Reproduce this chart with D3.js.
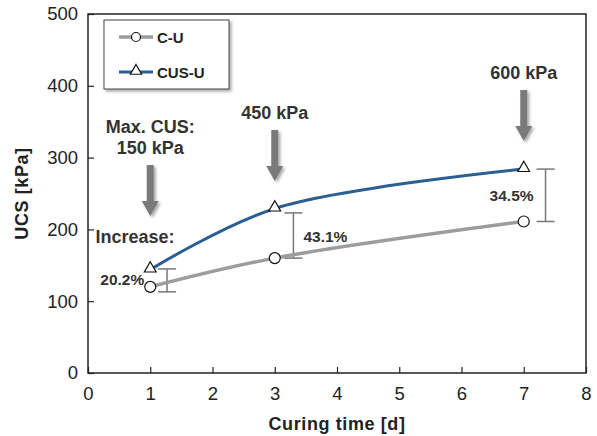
<!DOCTYPE html>
<html><head><meta charset="utf-8">
<script src="https://cdn.jsdelivr.net/npm/d3@7"></script>
<style>body{margin:0;background:#fff;} svg{display:block;font-family:"Liberation Sans",Arial,sans-serif;}</style>
</head><body><div id="chart"></div>
<script>
const days = [1, 3, 7];
const cuValues = [120, 160, 211];
const cusValues = [144, 229, 284];
const seriesNames = ["C-U", "CUS-U"];
const xTicks = [0, 1, 2, 3, 4, 5, 6, 7, 8];
const yTicks = [0, 100, 200, 300, 400, 500];
const increaseLabels = ["20.2%", "43.1%", "34.5%"];
const bracketX = [1.27, 3.3, 7.35];
const bracketLow = [113, 160, 211];
const bracketHigh = [145, 223, 284];
const maxLabels = [["Max. CUS:", "150 kPa"], ["450 kPa"], ["600 kPa"]];

const W = 597, H = 436;
const m = {l: 88, r: 11, t: 14, b: 63};
const svg = d3.select("#chart").append("svg").attr("width", W).attr("height", H);
const defs = svg.append("defs");
const f = defs.append("filter").attr("id","sh").attr("x","-20%").attr("y","-20%").attr("width","150%").attr("height","150%");
f.append("feDropShadow").attr("dx",2).attr("dy",2).attr("stdDeviation",1.5).attr("flood-color","#000").attr("flood-opacity",0.35);

const x = d3.scaleLinear().domain([0, 8]).range([m.l, W - m.r]);
const y = d3.scaleLinear().domain([0, 500]).range([H - m.b, m.t]);

const g = svg.append("g");
g.append("rect").attr("x", x(0)).attr("y", y(500)).attr("width", x(8) - x(0)).attr("height", y(0) - y(500))
  .attr("fill", "none").attr("stroke", "#222").attr("stroke-width", 1.5);

const xAxis = g.append("g").attr("transform", `translate(0,${y(0)})`)
  .call(d3.axisBottom(x).tickValues(xTicks).tickSize(-6).tickPadding(14).tickFormat(d3.format("d")));
const yAxis = g.append("g").attr("transform", `translate(${x(0)},0)`)
  .call(d3.axisLeft(y).tickValues(yTicks).tickSize(-6).tickPadding(10).tickFormat(d3.format("d")));
[xAxis, yAxis].forEach(a => {
  a.select(".domain").remove();
  a.selectAll("line").attr("stroke", "#222").attr("stroke-width", 1.2);
  a.selectAll("text").attr("font-size", 18.5).attr("fill", "#222").attr("font-family", "Liberation Sans, Arial, sans-serif");
});

svg.append("text").attr("x", (x(0) + x(8)) / 2).attr("y", 430).attr("text-anchor", "middle")
  .attr("font-size", 18).attr("letter-spacing", 0.6).attr("font-weight", "bold").attr("fill", "#222").text("Curing time [d]");
svg.append("text").attr("transform", `translate(28,${(y(0) + y(500)) / 2}) rotate(-90)`).attr("text-anchor", "middle")
  .attr("font-size", 18).attr("letter-spacing", 0.6).attr("font-weight", "bold").attr("fill", "#222").text("UCS [kPa]");

const line = d3.line().x((d, i) => x(days[i])).y(d => y(d)).curve(d3.curveCatmullRom.alpha(0.5));

bracketX.forEach((bx, i) => {
  const bg = g.append("g").attr("stroke", "#777").attr("stroke-width", 1.5);
  bg.append("line").attr("x1", x(bx)).attr("x2", x(bx)).attr("y1", y(bracketLow[i])).attr("y2", y(bracketHigh[i]));
  [bracketLow[i], bracketHigh[i]].forEach(v => bg.append("line").attr("x1", x(bx) - 9).attr("x2", x(bx) + 9).attr("y1", y(v)).attr("y2", y(v)));
});

g.append("path").datum(cuValues).attr("d", line).attr("fill", "none").attr("stroke", "#9c9c9c").attr("stroke-width", 3.5);
g.append("path").datum(cusValues).attr("d", line).attr("fill", "none").attr("stroke", "#2b5f94").attr("stroke-width", 3);

const tri = d3.symbol().type(d3.symbolTriangle).size(60);
g.selectAll(".cu").data(cuValues).join("circle").attr("cx", (d, i) => x(days[i])).attr("cy", d => y(d)).attr("r", 5.5)
  .attr("fill", "#fff").attr("stroke", "#111").attr("stroke-width", 1.2);
g.selectAll(".cus").data(cusValues).join("path").attr("d", tri)
  .attr("transform", (d, i) => `translate(${x(days[i])},${y(d) - 1})`)
  .attr("fill", "#fff").attr("stroke", "#111").attr("stroke-width", 1.2);

const lbl = (tx, ty, t, anchor) => svg.append("text").attr("x", tx).attr("y", ty).attr("text-anchor", anchor || "middle")
  .attr("font-size", 15.5).attr("font-weight", "bold").attr("fill", "#333").text(t);
lbl(x(days[0]) - 6, y(cuValues[0]) - 2, increaseLabels[0], "end");
lbl(x(bracketX[1]) + 10, y((bracketLow[1] + bracketHigh[1]) / 2) + 6, increaseLabels[1], "start");
lbl(x(bracketX[2]) - 12, y((bracketLow[2] + bracketHigh[2]) / 2) + 6, increaseLabels[2], "end");
svg.append("text").attr("x", 135).attr("y", 243).attr("text-anchor", "middle")
  .attr("font-size", 18).attr("font-weight", "bold").attr("fill", "#333").text("Increase:");

const arrowTop = [165, 130, 90];
days.forEach((dd, i) => {
  const ax = x(dd), top = arrowTop[i], bot = top + 51;
  g.append("path").attr("d", `M${ax - 3.5},${top} L${ax + 3.5},${top} L${ax + 3.5},${bot - 15} L${ax + 8.5},${bot - 15} L${ax},${bot} L${ax - 8.5},${bot - 15} L${ax - 3.5},${bot - 15} Z`)
    .attr("fill", "#7a7a7a").attr("filter", "url(#sh)");
  const lines = maxLabels[i];
  lines.forEach((t, k) => {
    svg.append("text").attr("x", ax).attr("y", top - 11 - (lines.length - 1 - k) * 21).attr("text-anchor", "middle")
      .attr("font-size", 18).attr("font-weight", "bold").attr("fill", "#333").text(t);
  });
});

const lg = svg.append("g");
lg.append("rect").attr("x", 104).attr("y", 20).attr("width", 125).attr("height", 69).attr("fill", "#fff")
  .attr("stroke", "#444").attr("stroke-width", 1).attr("filter", "url(#sh)");
const ly = [37, 72];
[["#9c9c9c", 3.5], ["#2b5f94", 3]].forEach((s, i) => {
  lg.append("line").attr("x1", 119).attr("x2", 153).attr("y1", ly[i]).attr("y2", ly[i]).attr("stroke", s[0]).attr("stroke-width", s[1]);
  if (i === 0) lg.append("circle").attr("cx", 136).attr("cy", ly[i]).attr("r", 4.5).attr("fill", "#fff").attr("stroke", "#111").attr("stroke-width", 1.2);
  else lg.append("path").attr("d", d3.symbol().type(d3.symbolTriangle).size(55)).attr("transform", `translate(136,${ly[i] - 1})`)
    .attr("fill", "#fff").attr("stroke", "#111").attr("stroke-width", 1.2);
  lg.append("text").attr("x", 157).attr("y", ly[i] + 5.5).attr("font-size", 15).attr("font-weight", "bold").attr("fill", "#222").text(seriesNames[i]);
});
</script></body></html>
